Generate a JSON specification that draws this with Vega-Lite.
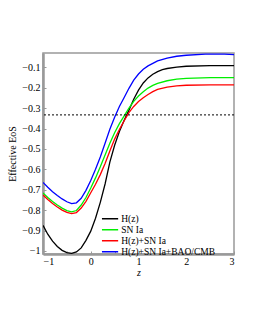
{
  "$schema": "https://vega.github.io/schema/vega-lite/v6.json",
  "width": 191,
  "height": 201,
  "autosize": "none",
  "padding": {"left": 43, "top": 53, "right": 21, "bottom": 76},
  "background": "white",
  "config": {
    "font": "Liberation Serif",
    "view": {"stroke": "#999999", "strokeWidth": 1.5},
    "axis": {"grid": false, "domainColor": "#999999", "domainWidth": 2.5, "tickColor": "#999999", "labelFont": "Liberation Serif", "titleFont": "Liberation Serif", "labelFontSize": 10, "titleFontSize": 10, "labelColor": "black", "titleColor": "black", "titleFontWeight": "normal"}
  },
  "datasets": {
    "curves": [
      {"z": -1.0, "v": -0.875, "s": "H(z)"}, {"z": -0.9, "v": -0.918, "s": "H(z)"}, {"z": -0.8, "v": -0.952, "s": "H(z)"}, {"z": -0.7, "v": -0.978, "s": "H(z)"}, {"z": -0.6, "v": -0.997, "s": "H(z)"}, {"z": -0.5, "v": -1.008, "s": "H(z)"}, {"z": -0.4, "v": -1.012, "s": "H(z)"}, {"z": -0.3, "v": -1.005, "s": "H(z)"}, {"z": -0.2, "v": -0.985, "s": "H(z)"}, {"z": -0.1, "v": -0.948, "s": "H(z)"}, {"z": 0.0, "v": -0.903, "s": "H(z)"}, {"z": 0.1, "v": -0.84, "s": "H(z)"}, {"z": 0.2, "v": -0.762, "s": "H(z)"}, {"z": 0.3, "v": -0.672, "s": "H(z)"}, {"z": 0.4, "v": -0.565, "s": "H(z)"}, {"z": 0.5, "v": -0.482, "s": "H(z)"}, {"z": 0.6, "v": -0.415, "s": "H(z)"}, {"z": 0.7, "v": -0.36, "s": "H(z)"}, {"z": 0.8, "v": -0.31, "s": "H(z)"}, {"z": 0.9, "v": -0.257, "s": "H(z)"}, {"z": 1.0, "v": -0.212, "s": "H(z)"}, {"z": 1.1, "v": -0.177, "s": "H(z)"}, {"z": 1.2, "v": -0.152, "s": "H(z)"}, {"z": 1.3, "v": -0.134, "s": "H(z)"}, {"z": 1.4, "v": -0.121, "s": "H(z)"}, {"z": 1.5, "v": -0.112, "s": "H(z)"}, {"z": 1.6, "v": -0.106, "s": "H(z)"}, {"z": 1.8, "v": -0.099, "s": "H(z)"}, {"z": 2.0, "v": -0.095, "s": "H(z)"}, {"z": 2.5, "v": -0.092, "s": "H(z)"}, {"z": 3.0, "v": -0.092, "s": "H(z)"},
      {"z": -1.0, "v": -0.716, "s": "SN Ia"}, {"z": -0.9, "v": -0.738, "s": "SN Ia"}, {"z": -0.8, "v": -0.758, "s": "SN Ia"}, {"z": -0.7, "v": -0.775, "s": "SN Ia"}, {"z": -0.6, "v": -0.79, "s": "SN Ia"}, {"z": -0.5, "v": -0.802, "s": "SN Ia"}, {"z": -0.4, "v": -0.808, "s": "SN Ia"}, {"z": -0.3, "v": -0.802, "s": "SN Ia"}, {"z": -0.2, "v": -0.775, "s": "SN Ia"}, {"z": -0.1, "v": -0.738, "s": "SN Ia"}, {"z": 0.0, "v": -0.692, "s": "SN Ia"}, {"z": 0.1, "v": -0.642, "s": "SN Ia"}, {"z": 0.2, "v": -0.588, "s": "SN Ia"}, {"z": 0.3, "v": -0.53, "s": "SN Ia"}, {"z": 0.4, "v": -0.472, "s": "SN Ia"}, {"z": 0.5, "v": -0.421, "s": "SN Ia"}, {"z": 0.6, "v": -0.376, "s": "SN Ia"}, {"z": 0.7, "v": -0.338, "s": "SN Ia"}, {"z": 0.8, "v": -0.3, "s": "SN Ia"}, {"z": 0.9, "v": -0.267, "s": "SN Ia"}, {"z": 1.0, "v": -0.241, "s": "SN Ia"}, {"z": 1.1, "v": -0.22, "s": "SN Ia"}, {"z": 1.2, "v": -0.202, "s": "SN Ia"}, {"z": 1.3, "v": -0.189, "s": "SN Ia"}, {"z": 1.4, "v": -0.179, "s": "SN Ia"}, {"z": 1.6, "v": -0.166, "s": "SN Ia"}, {"z": 1.8, "v": -0.158, "s": "SN Ia"}, {"z": 2.0, "v": -0.154, "s": "SN Ia"}, {"z": 2.5, "v": -0.151, "s": "SN Ia"}, {"z": 3.0, "v": -0.151, "s": "SN Ia"},
      {"z": -1.0, "v": -0.726, "s": "H(z)+SN Ia"}, {"z": -0.9, "v": -0.748, "s": "H(z)+SN Ia"}, {"z": -0.8, "v": -0.768, "s": "H(z)+SN Ia"}, {"z": -0.7, "v": -0.785, "s": "H(z)+SN Ia"}, {"z": -0.6, "v": -0.8, "s": "H(z)+SN Ia"}, {"z": -0.5, "v": -0.811, "s": "H(z)+SN Ia"}, {"z": -0.4, "v": -0.817, "s": "H(z)+SN Ia"}, {"z": -0.3, "v": -0.812, "s": "H(z)+SN Ia"}, {"z": -0.2, "v": -0.79, "s": "H(z)+SN Ia"}, {"z": -0.1, "v": -0.757, "s": "H(z)+SN Ia"}, {"z": 0.0, "v": -0.715, "s": "H(z)+SN Ia"}, {"z": 0.1, "v": -0.673, "s": "H(z)+SN Ia"}, {"z": 0.2, "v": -0.626, "s": "H(z)+SN Ia"}, {"z": 0.3, "v": -0.572, "s": "H(z)+SN Ia"}, {"z": 0.4, "v": -0.51, "s": "H(z)+SN Ia"}, {"z": 0.5, "v": -0.452, "s": "H(z)+SN Ia"}, {"z": 0.6, "v": -0.405, "s": "H(z)+SN Ia"}, {"z": 0.7, "v": -0.362, "s": "H(z)+SN Ia"}, {"z": 0.8, "v": -0.322, "s": "H(z)+SN Ia"}, {"z": 0.9, "v": -0.292, "s": "H(z)+SN Ia"}, {"z": 1.0, "v": -0.268, "s": "H(z)+SN Ia"}, {"z": 1.1, "v": -0.249, "s": "H(z)+SN Ia"}, {"z": 1.2, "v": -0.233, "s": "H(z)+SN Ia"}, {"z": 1.3, "v": -0.219, "s": "H(z)+SN Ia"}, {"z": 1.4, "v": -0.208, "s": "H(z)+SN Ia"}, {"z": 1.6, "v": -0.197, "s": "H(z)+SN Ia"}, {"z": 1.8, "v": -0.191, "s": "H(z)+SN Ia"}, {"z": 2.0, "v": -0.188, "s": "H(z)+SN Ia"}, {"z": 2.5, "v": -0.186, "s": "H(z)+SN Ia"}, {"z": 3.0, "v": -0.186, "s": "H(z)+SN Ia"},
      {"z": -1.0, "v": -0.664, "s": "H(z)+SN Ia+BAO/CMB"}, {"z": -0.9, "v": -0.688, "s": "H(z)+SN Ia+BAO/CMB"}, {"z": -0.8, "v": -0.71, "s": "H(z)+SN Ia+BAO/CMB"}, {"z": -0.7, "v": -0.728, "s": "H(z)+SN Ia+BAO/CMB"}, {"z": -0.6, "v": -0.745, "s": "H(z)+SN Ia+BAO/CMB"}, {"z": -0.5, "v": -0.759, "s": "H(z)+SN Ia+BAO/CMB"}, {"z": -0.4, "v": -0.768, "s": "H(z)+SN Ia+BAO/CMB"}, {"z": -0.3, "v": -0.764, "s": "H(z)+SN Ia+BAO/CMB"}, {"z": -0.2, "v": -0.742, "s": "H(z)+SN Ia+BAO/CMB"}, {"z": -0.1, "v": -0.703, "s": "H(z)+SN Ia+BAO/CMB"}, {"z": 0.0, "v": -0.655, "s": "H(z)+SN Ia+BAO/CMB"}, {"z": 0.1, "v": -0.6, "s": "H(z)+SN Ia+BAO/CMB"}, {"z": 0.2, "v": -0.54, "s": "H(z)+SN Ia+BAO/CMB"}, {"z": 0.3, "v": -0.472, "s": "H(z)+SN Ia+BAO/CMB"}, {"z": 0.4, "v": -0.404, "s": "H(z)+SN Ia+BAO/CMB"}, {"z": 0.5, "v": -0.345, "s": "H(z)+SN Ia+BAO/CMB"}, {"z": 0.6, "v": -0.292, "s": "H(z)+SN Ia+BAO/CMB"}, {"z": 0.7, "v": -0.248, "s": "H(z)+SN Ia+BAO/CMB"}, {"z": 0.8, "v": -0.203, "s": "H(z)+SN Ia+BAO/CMB"}, {"z": 0.9, "v": -0.163, "s": "H(z)+SN Ia+BAO/CMB"}, {"z": 1.0, "v": -0.133, "s": "H(z)+SN Ia+BAO/CMB"}, {"z": 1.1, "v": -0.11, "s": "H(z)+SN Ia+BAO/CMB"}, {"z": 1.2, "v": -0.093, "s": "H(z)+SN Ia+BAO/CMB"}, {"z": 1.4, "v": -0.069, "s": "H(z)+SN Ia+BAO/CMB"}, {"z": 1.6, "v": -0.055, "s": "H(z)+SN Ia+BAO/CMB"}, {"z": 1.8, "v": -0.046, "s": "H(z)+SN Ia+BAO/CMB"}, {"z": 2.0, "v": -0.041, "s": "H(z)+SN Ia+BAO/CMB"}, {"z": 2.4, "v": -0.036, "s": "H(z)+SN Ia+BAO/CMB"}, {"z": 2.8, "v": -0.036, "s": "H(z)+SN Ia+BAO/CMB"}, {"z": 3.0, "v": -0.038, "s": "H(z)+SN Ia+BAO/CMB"}
    ],
    "ref": [{"v": -0.3333}]
  },
  "encoding": {
    "y": {"field": "v", "type": "quantitative", "title": "Effective EoS",
      "scale": {"domain": [-1.015, -0.03], "nice": false, "zero": false},
      "axis": {"values": [-1, -0.9, -0.8, -0.7, -0.6, -0.5, -0.4, -0.3, -0.2, -0.1], "format": "~g", "tickSize": -3, "labelPadding": 6, "titlePadding": 4}}
  },
  "layer": [
    {
      "data": {"name": "curves"},
      "mark": {"type": "line", "strokeWidth": 1.3, "clip": true},
      "encoding": {
        "x": {"field": "z", "type": "quantitative", "title": "z",
          "scale": {"domain": [-1, 3], "nice": false, "zero": false},
          "axis": {"values": [-1, -0.5, 0, 0.5, 1, 1.5, 2, 2.5, 3], "format": "~g", "labelExpr": "datum.value % 1 == 0 ? datum.label : ''", "tickSize": -3, "labelPadding": 5, "titleFontStyle": "italic", "titlePadding": 1}},
        "color": {"field": "s", "type": "nominal",
          "scale": {"domain": ["H(z)", "SN Ia", "H(z)+SN Ia", "H(z)+SN Ia+BAO/CMB"], "range": ["black", "#00ee00", "#ff0000", "#0000ff"]},
          "legend": {"title": null, "orient": "none", "legendX": 62.3, "legendY": 161, "symbolType": "M-2.7,0H2.7", "symbolSize": 36, "symbolStrokeWidth": 1.5, "labelFontSize": 9.5, "labelFont": "Liberation Serif", "rowPadding": 0, "labelOffset": 6.4, "padding": 0}}
      }
    },
    {
      "data": {"name": "ref"},
      "mark": {"type": "rule", "color": "black", "strokeDash": [2, 2], "strokeWidth": 1}
    }
  ]
}
